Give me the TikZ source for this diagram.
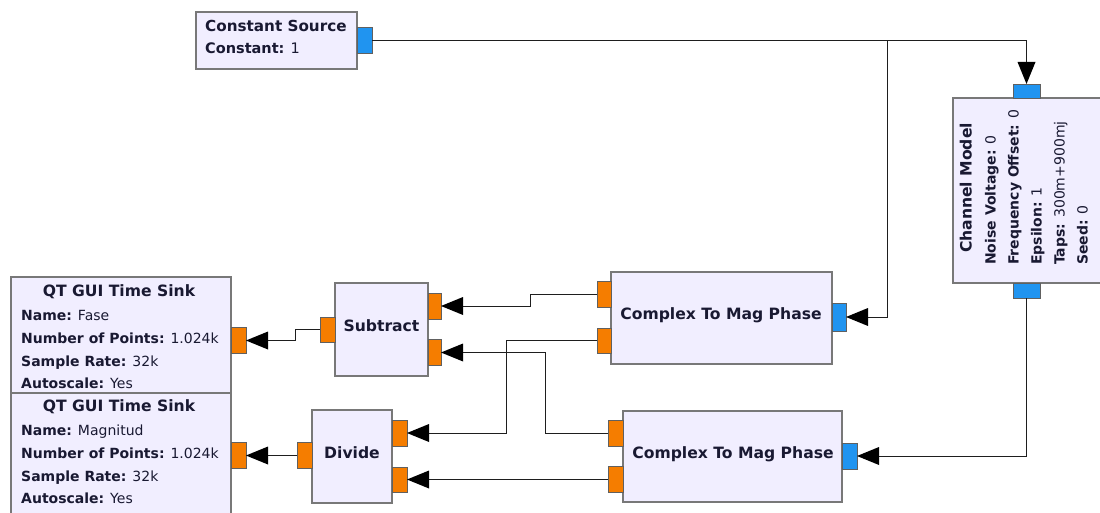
\documentclass[tikz,border=0pt]{standalone}
\usepackage{fontspec}
\setmainfont{DejaVu Sans}
\usetikzlibrary{arrows.meta}
\definecolor{blockfill}{RGB}{241,238,255}
\definecolor{blockline}{RGB}{120,120,120}
\definecolor{fport}{RGB}{245,125,0}
\definecolor{cport}{RGB}{32,148,240}
\definecolor{txt}{RGB}{25,25,50}
\definecolor{wirecol}{RGB}{30,30,30}
\tikzset{
  block/.style={draw=blockline, fill=blockfill, line width=1.1pt, inner sep=0pt, outer sep=0pt},
  fp/.style={draw=blockline!80!black, fill=fport, line width=0.8pt, minimum width=14pt, minimum height=26pt, inner sep=0pt, outer sep=0pt},
  cp/.style={draw=blockline!80!black, fill=cport, line width=0.8pt, minimum width=14pt, minimum height=26pt, inner sep=0pt, outer sep=0pt},
  cpv/.style={draw=blockline!80!black, fill=cport, line width=0.8pt, minimum width=27pt, minimum height=14pt, inner sep=0pt, outer sep=0pt},
  lbl/.style={inner sep=0pt, text height=0.72em, text depth=0pt, text=txt, font=\fontsize{14}{16}\selectfont},
  ttl/.style={inner sep=0pt, text height=0.72em, text depth=0pt, text=txt, font=\fontsize{15.6}{18}\selectfont\bfseries},
  wire/.style={draw=wirecol, line width=1pt, -{Triangle[length=22pt,width=18pt,fill=black,line width=0pt]}}
}
\begin{document}
\begin{tikzpicture}[x=1pt,y=-1pt]
\useasboundingbox (0,0) rectangle (1100,513);
% ---------- Constant Source
\node[block, minimum width=161pt, minimum height=57pt] (cs) at (276.5,40.5) {};
\node[ttl, anchor=west, font=\fontsize{15.2}{18}\selectfont\bfseries] (cst) at (205,28) {Constant Source};
\node[lbl, anchor=west, font=\fontsize{14.5}{16}\selectfont] (csv) at (205,50) {\textbf{Constant:} 1};
\node[cp, minimum width=15pt] (cso) at (364.5,40.5) {};
% ---------- Channel Model
\node[block, minimum width=152pt, minimum height=185pt] (ch) at (1029,190.5) {};
\node[cpv] (chi) at (1026.5,91) {};
\node[cpv, minimum height=15pt] (cho) at (1026.5,290.5) {};
\node[ttl, rotate=90] (cht) at (968,188) {Channel Model};
\node[lbl, rotate=90, anchor=west] (ch1) at (992,265) {\textbf{Noise Voltage:} 0};
\node[lbl, rotate=90, anchor=west] (ch2) at (1015,265) {\textbf{Frequency Offset:} 0};
\node[lbl, rotate=90, anchor=west] (ch3) at (1038,265) {\textbf{Epsilon:} 1};
\node[lbl, rotate=90, anchor=west] (ch4) at (1061,265) {\textbf{Taps:} 300m+900mj};
\node[lbl, rotate=90, anchor=west] (ch5) at (1084,265) {\textbf{Seed:} 0};
% ---------- QT GUI Time Sink 1
\node[block, minimum width=220pt, minimum height=116pt] (s1) at (121,335) {};
\node[ttl] (s1t) at (119,293) {QT GUI Time Sink};
\node[lbl, anchor=west] (s1a) at (21,317) {\textbf{Name:} Fase};
\node[lbl, anchor=west] (s1b) at (21,340) {\textbf{Number of Points:} 1.024k};
\node[lbl, anchor=west] (s1c) at (21,363) {\textbf{Sample Rate:} 32k};
\node[lbl, anchor=west] (s1d) at (21,385) {\textbf{Autoscale:} Yes};
\node[fp, minimum width=15pt] (s1p) at (238.5,340.5) {};
% ---------- QT GUI Time Sink 2
\node[block, minimum width=220pt, minimum height=130pt] (s2) at (121,458) {};
\node[ttl] (s2t) at (119,408) {QT GUI Time Sink};
\node[lbl, anchor=west] (s2a) at (21,432) {\textbf{Name:} Magnitud};
\node[lbl, anchor=west] (s2b) at (21,455) {\textbf{Number of Points:} 1.024k};
\node[lbl, anchor=west] (s2c) at (21,478) {\textbf{Sample Rate:} 32k};
\node[lbl, anchor=west] (s2d) at (21,500) {\textbf{Autoscale:} Yes};
\node[fp, minimum width=15pt] (s2p) at (238.5,455.5) {};
% ---------- Subtract
\node[block, minimum width=93pt, minimum height=93pt] (sub) at (381.5,329.5) {};
\node[ttl] (subt) at (381.5,328) {Subtract};
\node[fp, minimum width=15pt, minimum height=25pt] (subi) at (327.5,329.5) {};
\node[fp, minimum width=13pt] (subo1) at (434.5,306) {};
\node[fp, minimum width=13pt] (subo2) at (434.5,352.5) {};
% ---------- Divide
\node[block, minimum width=80pt, minimum height=93pt] (div) at (352,456.5) {};
\node[ttl] (divt) at (352,455) {Divide};
\node[fp, minimum width=15pt] (divi) at (304.5,455.5) {};
\node[fp, minimum width=15pt] (divo1) at (399.5,433) {};
\node[fp, minimum width=15pt, minimum height=25pt] (divo2) at (399.5,479.5) {};
% ---------- Complex To Mag Phase 1
\node[block, minimum width=221pt, minimum height=92pt] (c1) at (721.5,318) {};
\node[ttl] (c1t) at (721,316) {Complex To Mag Phase};
\node[fp] (c1i1) at (604,294.5) {};
\node[fp, minimum height=25pt] (c1i2) at (604,340.5) {};
\node[cp, minimum height=28pt] (c1o) at (839,317) {};
% ---------- Complex To Mag Phase 2
\node[block, minimum width=219pt, minimum height=91pt] (c2) at (732.5,456.5) {};
\node[ttl] (c2t) at (733,455) {Complex To Mag Phase};
\node[fp, minimum width=15pt] (c2i1) at (615.5,433) {};
\node[fp, minimum width=15pt] (c2i2) at (615.5,479.5) {};
\node[cp, minimum width=15pt] (c2o) at (849.5,456) {};
% ---------- connections
\coordinate (br) at (887,40.5);
\draw[wire] (cso.east) -| (chi.north);
\draw[wire] (br) |- (c1o.east);
\draw[wire] (cho.south) |- (c2o.east);
\draw[wire] (c1i1.west) -- ++(-67,0) |- (subo1.east);
\draw[wire] (c1i2.west) -- ++(-91,0) |- (divo1.east);
\draw[wire] (c2i1.west) -- ++(-63,0) |- (subo2.east);
\draw[wire] (c2i2.west) -- (divo2.east);
\draw[wire] (subi.west) -- ++(-25,0) |- (s1p.east);
\draw[wire] (divi.west) -- (s2p.east);
\end{tikzpicture}
\end{document}
